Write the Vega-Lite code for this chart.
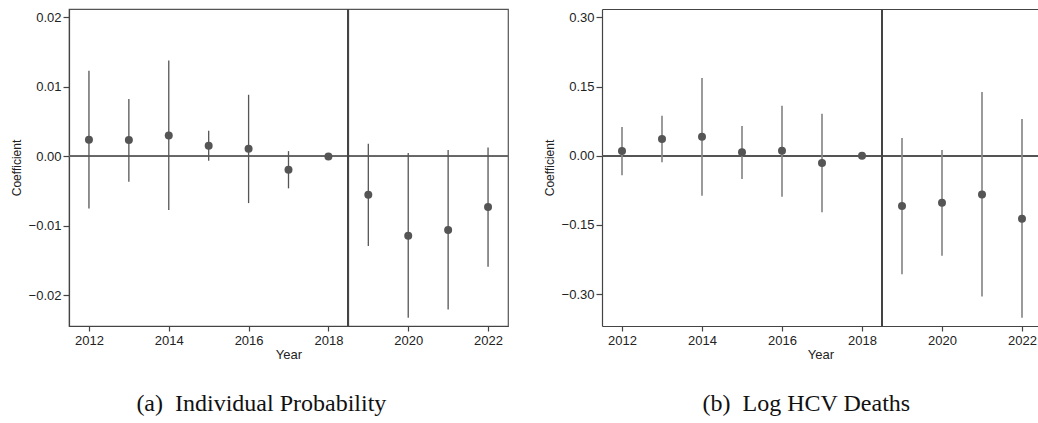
{
  "$schema": "https://vega.github.io/schema/vega-lite/v6.json",
  "padding": {"left": 9, "top": 7, "right": 0, "bottom": 0},
  "spacing": 33,
  "datasets": {
    "a": [
      {"year": 2012, "coef": 0.0024, "lo": -0.0075, "hi": 0.0123},
      {"year": 2013, "coef": 0.00235, "lo": -0.00365, "hi": 0.00824},
      {"year": 2014, "coef": 0.0030, "lo": -0.0077, "hi": 0.0138},
      {"year": 2015, "coef": 0.00153, "lo": -0.00063, "hi": 0.00368},
      {"year": 2016, "coef": 0.00109, "lo": -0.00672, "hi": 0.00886},
      {"year": 2017, "coef": -0.00193, "lo": -0.0046, "hi": 0.00076},
      {"year": 2018, "coef": 0, "lo": 0, "hi": 0},
      {"year": 2019, "coef": -0.00552, "lo": -0.01291, "hi": 0.00181},
      {"year": 2020, "coef": -0.01142, "lo": -0.02322, "hi": 0.00047},
      {"year": 2021, "coef": -0.0106, "lo": -0.02201, "hi": 0.00091},
      {"year": 2022, "coef": -0.00729, "lo": -0.01588, "hi": 0.00129}
    ],
    "b": [
      {"year": 2012, "coef": 0.0102, "lo": -0.0425, "hi": 0.0622},
      {"year": 2013, "coef": 0.0362, "lo": -0.0143, "hi": 0.0867},
      {"year": 2014, "coef": 0.0412, "lo": -0.0867, "hi": 0.1684},
      {"year": 2015, "coef": 0.0074, "lo": -0.0505, "hi": 0.0644},
      {"year": 2016, "coef": 0.0108, "lo": -0.0889, "hi": 0.1084},
      {"year": 2017, "coef": -0.0158, "lo": -0.1227, "hi": 0.091},
      {"year": 2018, "coef": 0, "lo": 0, "hi": 0},
      {"year": 2019, "coef": -0.109, "lo": -0.257, "hi": 0.0384},
      {"year": 2020, "coef": -0.1019, "lo": -0.2168, "hi": 0.0124},
      {"year": 2021, "coef": -0.0838, "lo": -0.3048, "hi": 0.138},
      {"year": 2022, "coef": -0.1366, "lo": -0.3512, "hi": 0.0796}
    ]
  },
  "hconcat": [
    {
      "width": 439,
      "height": 317,
      "data": {"name": "a"},
      "view": {"stroke": "#555", "strokeWidth": 1.2},
      "title": {"text": "(a)\u00a0 Individual Probability", "orient": "bottom", "anchor": "middle", "frame": "bounds", "offset": 31, "fontSize": 24, "font": "Liberation Serif", "fontWeight": "normal", "color": "#111", "dx": 2},
      "layer": [
        {
          "mark": {"type": "rule", "color": "#666", "strokeWidth": 1.4},
          "encoding": {"y": {"datum": 0, "type": "quantitative", "scale": {"domain": [-0.0244, 0.0212], "nice": false, "zero": false}}}
        },
        {
          "mark": {"type": "rule", "color": "#444", "strokeWidth": 1.3},
          "encoding": {"x": {"datum": 2018.5, "type": "quantitative", "scale": {"domain": [2011.5, 2022.5], "nice": false, "zero": false}}}
        },
        {
          "mark": {"type": "rule", "color": "#555", "strokeWidth": 1.3},
          "encoding": {
            "x": {"field": "year", "type": "quantitative", "scale": {"domain": [2011.5, 2022.5], "nice": false, "zero": false}},
            "y": {"field": "lo", "type": "quantitative", "scale": {"domain": [-0.0244, 0.0212], "nice": false, "zero": false}},
            "y2": {"field": "hi"}
          }
        },
        {
          "mark": {"type": "point", "filled": true, "color": "#555", "opacity": 1, "size": 64},
          "encoding": {
            "x": {"field": "year", "type": "quantitative", "scale": {"domain": [2011.5, 2022.5], "nice": false, "zero": false},
              "axis": {"values": [2012, 2014, 2016, 2018, 2020, 2022], "format": "d", "tickSize": 5, "labelPadding": 3, "title": "Year", "titlePadding": 1}},
            "y": {"field": "coef", "type": "quantitative", "scale": {"domain": [-0.0244, 0.0212], "nice": false, "zero": false},
              "axis": {"values": [-0.02, -0.01, 0, 0.01, 0.02], "format": ".2f", "tickSize": 6, "labelPadding": 2, "title": "Coefficient", "titleFontSize": 12, "titlePadding": 6, "minExtent": 40, "maxExtent": 40}}
          }
        }
      ]
    },
    {
      "width": 437,
      "height": 317,
      "data": {"name": "b"},
      "view": {"stroke": null},
      "title": {"text": "(b)\u00a0 Log HCV Deaths", "orient": "bottom", "anchor": "middle", "frame": "bounds", "offset": 31, "fontSize": 24, "font": "Liberation Serif", "fontWeight": "normal", "color": "#111", "dx": 15},
      "resolve": {"axis": {"x": "independent"}},
      "layer": [
        {
          "mark": {"type": "rule", "color": "#555", "strokeWidth": 1.5},
          "encoding": {"y": {"datum": 0, "type": "quantitative", "scale": {"domain": [-0.369, 0.318], "nice": false, "zero": false}}}
        },
        {
          "mark": {"type": "rule", "color": "#444", "strokeWidth": 1.3},
          "encoding": {"x": {"datum": 2018.5, "type": "quantitative", "scale": {"domain": [2011.5, 2022.425], "nice": false, "zero": false},
            "axis": {"orient": "top", "labels": false, "ticks": false, "title": null, "domain": true}}}
        },
        {
          "mark": {"type": "rule", "color": "#8a8a8a", "strokeWidth": 1.7},
          "encoding": {
            "x": {"field": "year", "type": "quantitative", "scale": {"domain": [2011.5, 2022.425], "nice": false, "zero": false}, "axis": null},
            "y": {"field": "lo", "type": "quantitative", "scale": {"domain": [-0.369, 0.318], "nice": false, "zero": false}},
            "y2": {"field": "hi"}
          }
        },
        {
          "mark": {"type": "point", "filled": true, "color": "#555", "opacity": 1, "size": 64},
          "encoding": {
            "x": {"field": "year", "type": "quantitative", "scale": {"domain": [2011.5, 2022.425], "nice": false, "zero": false},
              "axis": {"values": [2012, 2014, 2016, 2018, 2020, 2022], "format": "d", "tickSize": 5, "labelPadding": 3, "title": "Year", "titlePadding": 1}},
            "y": {"field": "coef", "type": "quantitative", "scale": {"domain": [-0.369, 0.318], "nice": false, "zero": false},
              "axis": {"values": [-0.3, -0.15, 0, 0.15, 0.3], "format": ".2f", "tickSize": 6, "labelPadding": 2, "title": "Coefficient", "titleFontSize": 12, "titlePadding": 6, "minExtent": 40, "maxExtent": 40}}
          }
        }
      ]
    }
  ],
  "config": {
    "font": "Liberation Sans",
    "axis": {"domainColor": "#444", "domainWidth": 1.2, "tickColor": "#444", "tickWidth": 1.2, "labelColor": "#222", "labelFontSize": 13, "titleFontSize": 13, "titleFontWeight": "normal", "titleColor": "#222", "grid": false, "labelFont": "Liberation Sans", "titleFont": "Liberation Sans"},
    "view": {"stroke": "#555"}
  }
}
